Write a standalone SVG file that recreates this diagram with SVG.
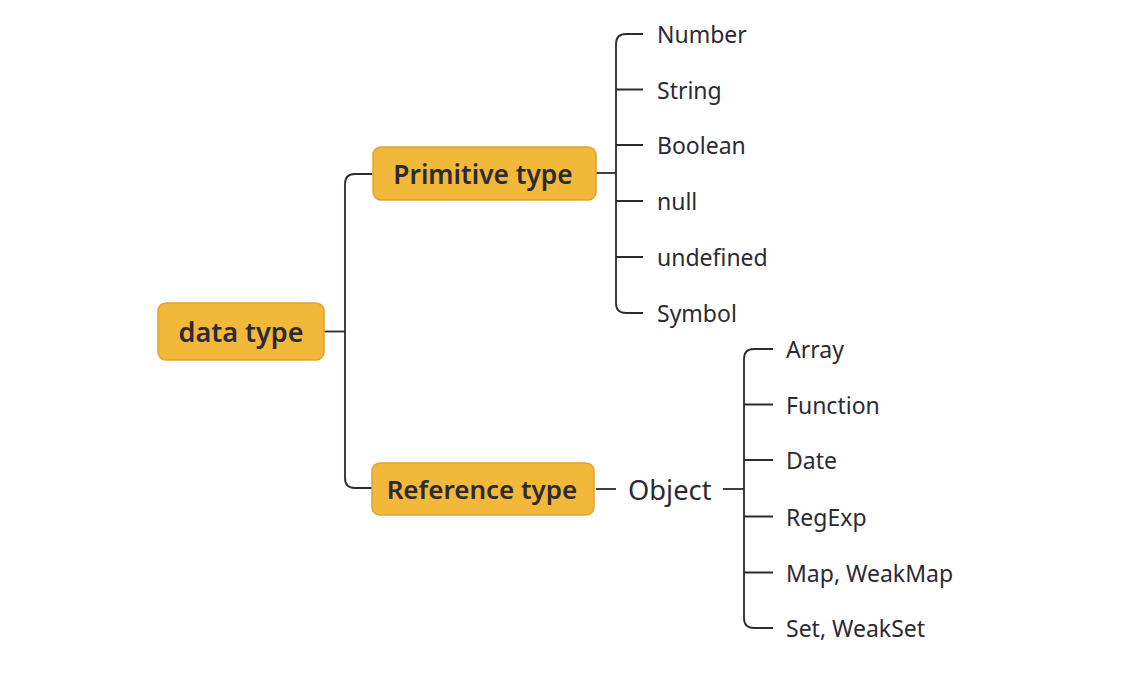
<svg xmlns="http://www.w3.org/2000/svg" width="1148" height="682" viewBox="0 0 1148 682">
<style>
.box{fill:#F2B83A;stroke:#DFA32E;stroke-width:1.5}
.bt{font-family:"Noto Sans",sans-serif;font-weight:600;fill:#2B2A35;text-anchor:middle;dominant-baseline:central}
.lt{font-family:"Noto Sans",sans-serif;font-size:23px;fill:#2B2A35;dominant-baseline:central}
.ot{font-family:"Noto Sans",sans-serif;font-size:27.3px;fill:#2B2A35;dominant-baseline:central}
.ln{fill:none;stroke:#2B2A35;stroke-width:1.8}
</style>
<rect width="1148" height="682" fill="#FFFFFF"/>
<g id="connectors" class="ln">
<path d="M324 331.5H345"/>
<path d="M372 174H355Q345 174 345 184V478Q345 488 355 488H372"/>
<path d="M596 173H616"/>
<path d="M643 34H626Q616 34 616 44V303Q616 313 626 313H643"/>
<path d="M616 89.5H643M616 145H643M616 201H643M616 257H643"/>
<path d="M596 489H616"/>
<path d="M723 489H744"/>
<path d="M773 349H754Q744 349 744 359V618Q744 628 754 628H773"/>
<path d="M744 404.5H773M744 460H773M744 516.5H773M744 572.5H773"/>
</g>
<g id="node-data-type">
<rect class="box" x="158" y="303" width="166" height="57" rx="8"/>
<text class="bt" x="241" y="331.5" font-size="27">data type</text>
</g>
<g id="node-primitive-type">
<rect class="box" x="373" y="147" width="223" height="53" rx="8"/>
<text class="bt" x="483" y="173.5" font-size="26.3">Primitive type</text>
</g>
<g id="node-reference-type">
<rect class="box" x="372" y="463" width="222" height="52" rx="8"/>
<text class="bt" x="482" y="489" font-size="26">Reference type</text>
</g>
<g id="node-object"><text class="ot" x="628" y="489">Object</text></g>
<g id="node-number"><text class="lt" x="657" y="34">Number</text></g>
<g id="node-string"><text class="lt" x="657" y="89.5">String</text></g>
<g id="node-boolean"><text class="lt" x="657" y="145">Boolean</text></g>
<g id="node-null"><text class="lt" x="657" y="201">null</text></g>
<g id="node-undefined"><text class="lt" x="657" y="257">undefined</text></g>
<g id="node-symbol"><text class="lt" x="657" y="313">Symbol</text></g>
<g id="node-array"><text class="lt" x="786" y="349">Array</text></g>
<g id="node-function"><text class="lt" x="786" y="404.5">Function</text></g>
<g id="node-date"><text class="lt" x="786" y="460">Date</text></g>
<g id="node-regexp"><text class="lt" x="786" y="516.5">RegExp</text></g>
<g id="node-map"><text class="lt" x="786" y="572.5">Map, WeakMap</text></g>
<g id="node-set"><text class="lt" x="786" y="628">Set, WeakSet</text></g>
</svg>
